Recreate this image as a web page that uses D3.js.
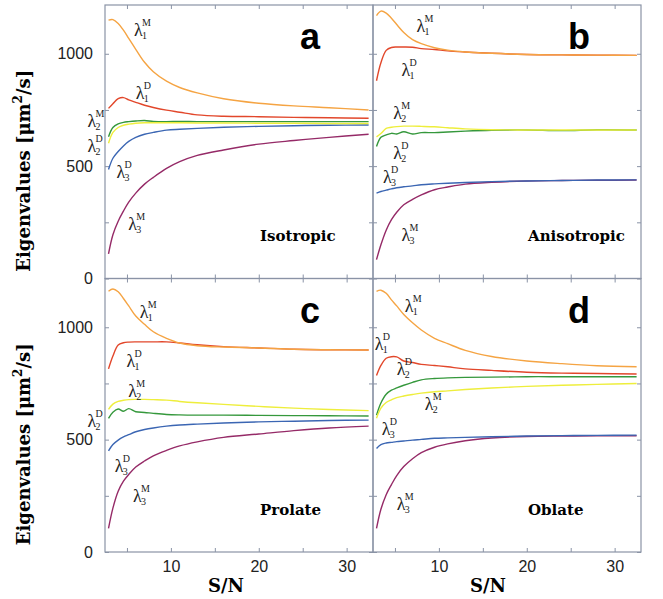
<!DOCTYPE html>
<html>
<head>
<meta charset="utf-8">
<script src="https://cdn.jsdelivr.net/npm/d3@7"></script>
<style>
  body { margin: 0; background: #fff; }
</style>
</head>
<body>
<div id="chart"></div>
<script>
// S/N sample points shared by every curve
const snGrid = [2.9, 3.4, 4, 4.6, 5.2, 6, 7, 8, 9.5, 11, 13, 16, 20, 24, 28, 32.5];

// a: Isotropic
const isoL1M = [1150, 1152, 1135, 1105, 1068, 1020, 962, 920, 878, 850, 826, 800, 780, 768, 760, 750];
const isoL1D = [757, 778, 800, 805, 795, 784, 771, 761, 749, 740, 728, 722, 720, 717, 715, 713];
const isoL2M = [602, 650, 672, 682, 687, 691, 693, 693, 693, 693, 692, 692, 691, 691, 690, 690];
const isoL2D = [631, 672, 688, 695, 698, 701, 703, 699, 698, 699, 698, 698, 698, 698, 698, 698];
const isoL3D = [485, 535, 565, 590, 610, 628, 642, 650, 660, 664, 668, 673, 677, 680, 682, 683];
const isoL3M = [110, 195, 255, 300, 340, 380, 420, 450, 490, 520, 548, 572, 598, 614, 628, 642];

// b: Anisotropic
const aniL1M = [1170, 1190, 1181, 1158, 1130, 1095, 1063, 1045, 1027, 1016, 1008, 1002, 997, 995, 994, 993];
const aniL1D = [880, 960, 1015, 1028, 1030, 1030, 1029, 1023, 1019, 1013, 1008, 1002, 997, 995, 994, 993];
const aniL2M = [630, 645, 668, 673, 676, 678, 678, 677, 675, 671, 666, 662, 661, 661, 661, 661];
const aniL2D = [587, 628, 639, 646, 643, 653, 643, 649, 649, 652, 656, 660, 661, 658, 662, 661];
const aniL3D = [380, 387, 393, 399, 404, 408, 412, 417, 421, 424, 427, 431, 434, 436, 438, 439];
const aniL3M = [84, 150, 215, 262, 295, 328, 352, 372, 395, 407, 420, 428, 434, 436, 437, 438];

// c: Prolate
const proL1M = [1160, 1170, 1158, 1128, 1095, 1050, 1013, 980, 951, 930, 918, 912, 908, 902, 900, 899];
const proL1D = [815, 872, 921, 931, 934, 935, 935, 935, 935, 930, 922, 914, 908, 902, 900, 899];
const proL2M = [635, 658, 670, 675, 678, 679, 679, 678, 676, 670, 664, 657, 648, 640, 634, 629];
const proL2D = [595, 622, 636, 626, 638, 624, 621, 617, 612, 610, 609, 609, 608, 607, 606, 605];
const proL3D = [450, 478, 498, 512, 522, 535, 545, 552, 560, 565, 569, 574, 579, 582, 585, 587];
const proL3M = [105, 195, 270, 315, 345, 378, 405, 428, 452, 472, 490, 510, 525, 540, 552, 560];

// d: Oblate
const oblL1M = [1160, 1165, 1151, 1122, 1095, 1057, 1020, 988, 951, 927, 897, 870, 850, 838, 829, 824];
const oblL1D = [785, 830, 862, 869, 868, 850, 843, 835, 830, 824, 815, 808, 800, 796, 794, 792];
const oblL2M = [595, 640, 665, 677, 687, 694, 701, 707, 713, 717, 723, 730, 737, 742, 746, 750];
const oblL2D = [609, 663, 702, 720, 730, 742, 755, 766, 772, 775, 777, 778, 780, 780, 780, 780];
const oblL3D = [461, 478, 485, 488, 491, 494, 498, 501, 506, 508, 510, 513, 516, 518, 519, 520];
const oblL3M = [105, 190, 255, 300, 340, 380, 415, 442, 466, 481, 495, 507, 514, 516, 517, 517];

const seriesKeys = ["L3M", "L3D", "L2D", "L2M", "L1D", "L1M"];
const seriesColors = {
  L1M: "#f5a443", L1D: "#e2472b", L2M: "#eeee3c",
  L2D: "#35983c", L3D: "#3b66b3", L3M: "#952a67"
};

const xTicks = [5, 10, 15, 20, 25, 30];
const xTickLabels = [10, 20, 30];
const yTicks = [0, 250, 500, 750, 1000];
const yTickLabels = [0, 500, 1000];

// label anchors in data units: [key, S/N, eigenvalue]
const isoLabels = [["L1M", 5.8, 1077], ["L1D", 6.0, 797], ["L2M", 0.5, 672], ["L2D", 0.5, 561], ["L3D", 3.8, 449], ["L3M", 5.15, 218]];
const aniLabels = [["L1M", 7.45, 1095], ["L1D", 5.75, 899], ["L2M", 4.8, 708], ["L2D", 4.8, 530], ["L3D", 3.65, 427], ["L3M", 5.75, 165]];
const proLabels = [["L1M", 6.45, 1040], ["L1D", 4.95, 825], ["L2M", 5.15, 691], ["L2D", 0.5, 558], ["L3D", 3.6, 357], ["L3M", 5.7, 224]];
const oblLabels = [["L1M", 6.1, 1069], ["L1D", 2.7, 899], ["L2D", 5.2, 788], ["L2M", 8.4, 632], ["L3D", 3.5, 521], ["L3M", 5.2, 187]];

const panels = [
  { letter: "a", name: "Isotropic", col: 0, row: 0, labels: isoLabels,
    data: { L1M: isoL1M, L1D: isoL1D, L2M: isoL2M, L2D: isoL2D, L3D: isoL3D, L3M: isoL3M } },
  { letter: "b", name: "Anisotropic", col: 1, row: 0, labels: aniLabels,
    data: { L1M: aniL1M, L1D: aniL1D, L2M: aniL2M, L2D: aniL2D, L3D: aniL3D, L3M: aniL3M } },
  { letter: "c", name: "Prolate", col: 0, row: 1, labels: proLabels,
    data: { L1M: proL1M, L1D: proL1D, L2M: proL2M, L2D: proL2D, L3D: proL3D, L3M: proL3M } },
  { letter: "d", name: "Oblate", col: 1, row: 1, labels: oblLabels,
    data: { L1M: oblL1M, L1D: oblL1D, L2M: oblL2M, L2D: oblL2D, L3D: oblL3D, L3M: oblL3M } }
];

const width = 663, height = 599;
const marginLeft = 105, marginTop = 5;
const pw = 268, ph = 273.5;
const frameColor = "#8a93a6";
const serif = "'DejaVu Serif', 'Liberation Serif', serif";
const sans = "'Liberation Sans', Arial, sans-serif";

const svg = d3.select("#chart").append("svg")
  .attr("width", width)
  .attr("height", height);

const xScale = d3.scaleLinear().domain([2.5, 33]).range([0, pw]);
const yScale = d3.scaleLinear().domain([0, 1217]).range([ph, 0]);

const line = d3.line()
  .x((d, i) => xScale(snGrid[i]))
  .y(d => yScale(d))
  .curve(d3.curveCatmullRom);

panels.forEach(p => {
  const g = svg.append("g")
    .attr("transform", `translate(${marginLeft + p.col * pw},${marginTop + p.row * ph})`);

  // inward ticks on all four sides
  const tickStyle = sel => {
    sel.select(".domain").remove();
    sel.selectAll(".tick line").attr("stroke", frameColor);
    sel.selectAll(".tick text").attr("fill", "#222").style("font-family", sans).style("font-size", "16px");
  };
  g.append("g").attr("transform", `translate(0,${ph})`)
    .call(d3.axisBottom(xScale).tickValues(xTicks).tickSizeInner(-4).tickPadding(9)
      .tickFormat(d => (p.row === 1 && xTickLabels.includes(d)) ? d : ""))
    .call(tickStyle);
  g.append("g")
    .call(d3.axisTop(xScale).tickValues(xTicks).tickSizeInner(-4).tickFormat(""))
    .call(tickStyle);
  g.append("g")
    .call(d3.axisLeft(yScale).tickValues(yTicks).tickSizeInner(-4).tickPadding(12)
      .tickFormat(d => (p.col === 0 && yTickLabels.includes(d)) ? d : ""))
    .call(tickStyle);
  g.append("g").attr("transform", `translate(${pw},0)`)
    .call(d3.axisRight(yScale).tickValues(yTicks).tickSizeInner(-4).tickFormat(""))
    .call(tickStyle);

  g.append("rect")
    .attr("width", pw).attr("height", ph)
    .attr("fill", "none").attr("stroke", frameColor).attr("stroke-width", 1.2);

  // curves
  g.selectAll("path.curve")
    .data(seriesKeys)
    .join("path")
    .attr("class", "curve")
    .attr("d", k => line(p.data[k]))
    .attr("fill", "none")
    .attr("stroke", k => seriesColors[k])
    .attr("stroke-width", 1.4);

  // λ labels
  const lab = g.selectAll("g.lab")
    .data(p.labels)
    .join("g")
    .attr("class", "lab")
    .attr("transform", d => `translate(${xScale(d[1])},${yScale(d[2])})`)
    .style("font-family", "'Liberation Serif', 'Times New Roman', serif")
    .attr("fill", "#222");
  lab.append("text").attr("font-size", 18).text("λ");
  lab.append("text").attr("x", 8).attr("y", -10).attr("font-size", 10).text(d => d[0][2]);
  lab.append("text").attr("x", 8).attr("y", 3).attr("font-size", 10).text(d => d[0][1]);

  g.append("text")
    .attr("x", 195).attr("y", 44)
    .style("font-family", sans).style("font-weight", "bold").style("font-size", "36px")
    .text(p.letter);

  g.append("text")
    .attr("x", 155).attr("y", 236)
    .style("font-family", serif).style("font-weight", "bold").style("font-size", "15px")
    .text(p.name);

  if (p.col === 0) {
    const yl = g.append("text")
      .attr("transform", `translate(${30 - marginLeft},${ph / 2 + 29}) rotate(-90)`)
      .attr("text-anchor", "middle")
      .style("font-family", serif).style("font-weight", "bold").style("font-size", "18px");
    yl.append("tspan").text("Eigenvalues [μm");
    yl.append("tspan").attr("dy", -8).style("font-size", "12px").text("2");
    yl.append("tspan").attr("dy", 8).text("/s]");
  }
  if (p.row === 1) {
    g.append("text")
      .attr("x", p.col === 0 ? 121 : 115).attr("y", ph + 40)
      .attr("text-anchor", "middle")
      .style("font-family", serif).style("font-weight", "bold").style("font-size", "18px")
      .text("S/N");
  }
});
</script>
</body>
</html>
